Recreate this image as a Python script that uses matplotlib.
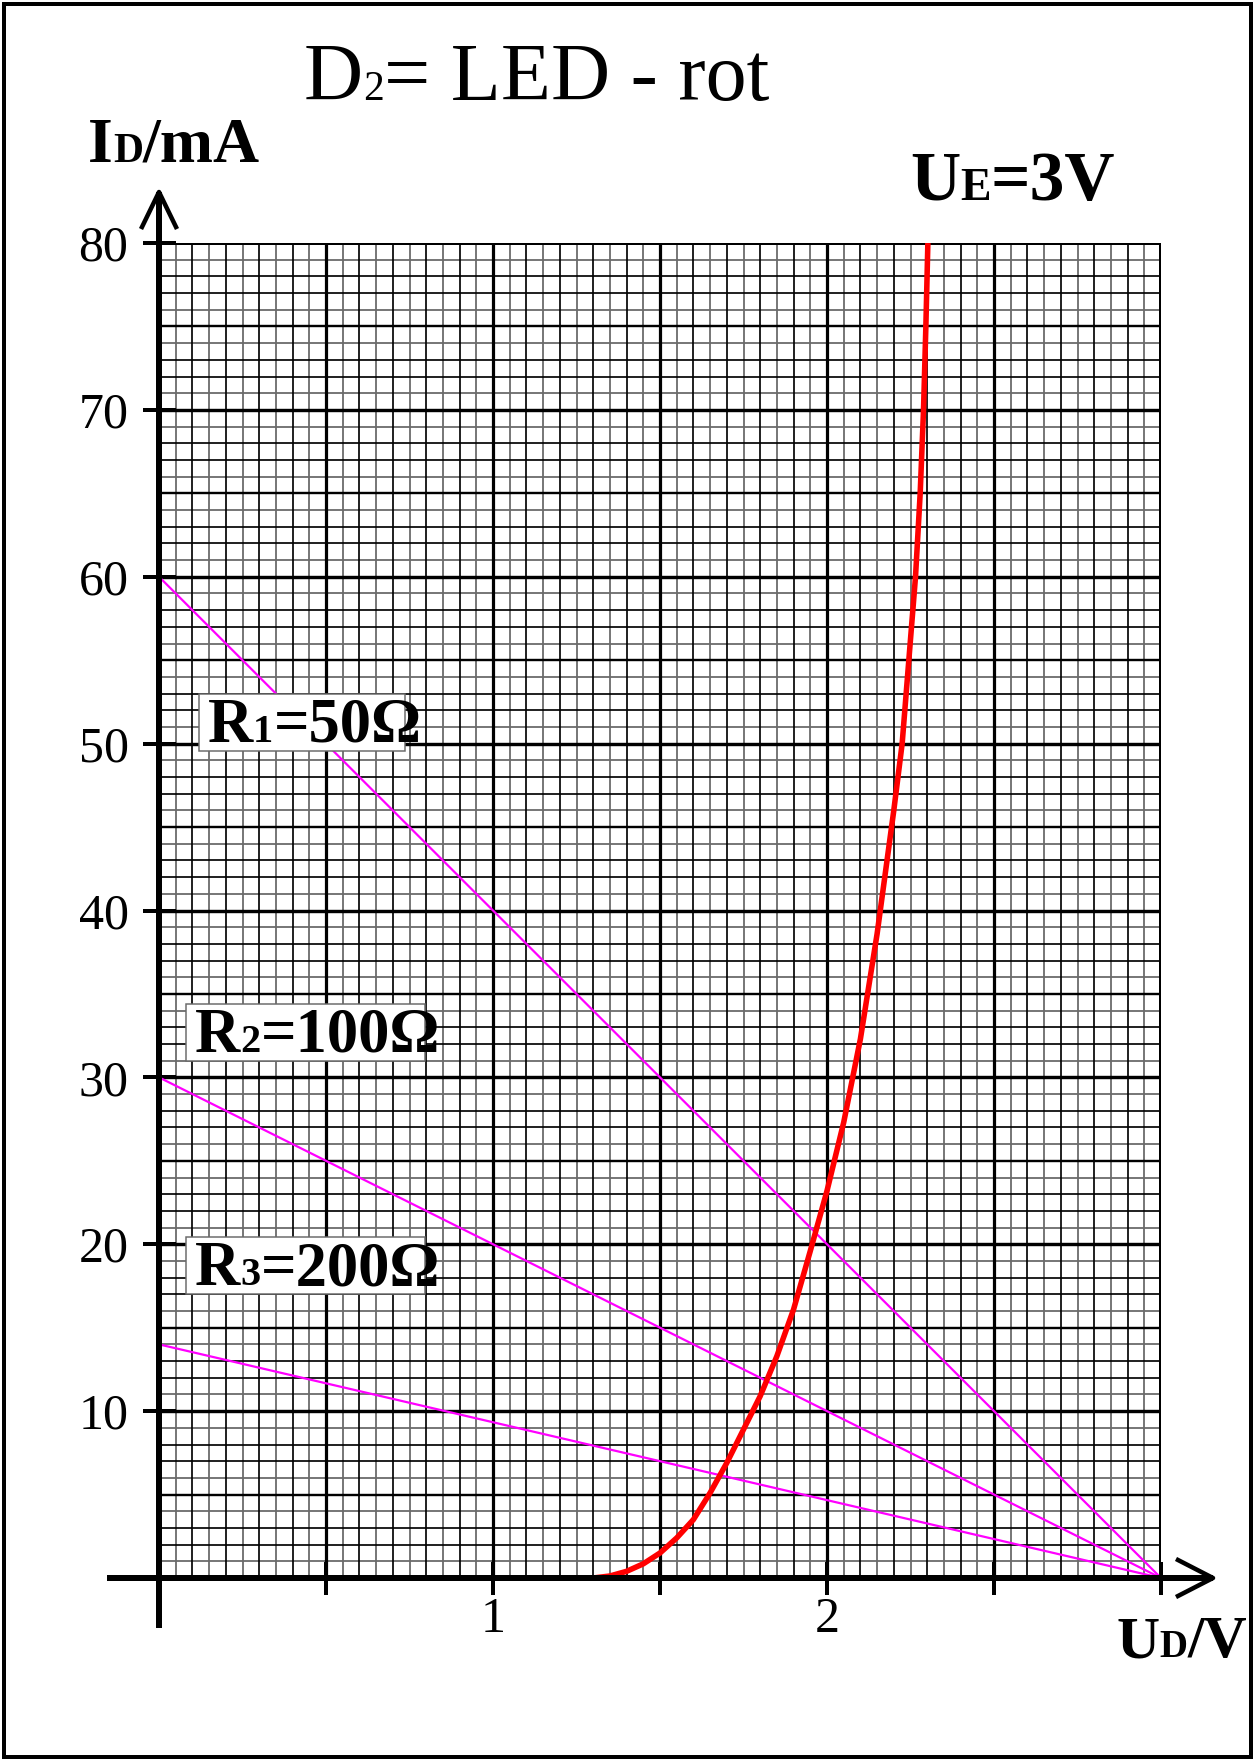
import matplotlib
matplotlib.use("Agg")
import matplotlib.pyplot as plt
from matplotlib.patches import Rectangle
from matplotlib.transforms import IdentityTransform

# LED (red) characteristic
U_LED = [1.30, 1.35, 1.40, 1.45, 1.50, 1.55, 1.60, 1.65, 1.70, 1.75, 1.80, 1.85, 1.90,
         1.95, 2.00, 2.05, 2.10, 2.15, 2.20, 2.225, 2.245, 2.265, 2.279, 2.289, 2.296, 2.302]
I_LED = [0.0, 0.12, 0.4, 0.85, 1.5, 2.4, 3.5, 5.1, 6.9, 8.9, 10.9, 13.3, 16.1,
         19.6, 23.2, 27.3, 32.3, 38.6, 46.0, 50.0, 55.0, 60.0, 65.0, 70.0, 75.0, 80.0]

# load lines: short-circuit current at U=0, open circuit at U_E
U_E = 3.0
LOAD_I0 = [60, 30, 14]
R_NAMES = [("R", "1", "=50Ω"), ("R", "2", "=100Ω"), ("R", "3", "=200Ω")]
R_BOX = [(199, 694, 405, 751), (186, 1004, 425, 1061), (186, 1237, 425, 1294)]  # px, from top

X_TICKS = [0.5, 1.0, 1.5, 2.0, 2.5, 3.0]
X_TICKLABELS = ["", "1", "", "2", "", ""]
Y_TICKS = [10, 20, 30, 40, 50, 60, 70, 80]

W, H = 1255, 1761
X0, X1 = 159, 1161      # px of U=0 and U=3
Y0, Y80 = 1578, 243     # px (from top) of I=0 and I=80
PX = 72 / 100           # points per pixel at dpi 100
SERIF = "Liberation Serif"
GRAY = "#6a6a6a"

plt.rcParams["font.family"] = [SERIF, "DejaVu Serif"]

fig = plt.figure(figsize=(W / 100, H / 100), dpi=100)
ax = fig.add_axes([X0 / W, (H - Y0) / H, (X1 - X0) / W, (Y0 - Y80) / H])
ax.set_xlim(0, 3)
ax.set_ylim(0, 80)
for s in ax.spines.values():
    s.set_visible(False)

# graph paper
for k in range(1, 60):
    u = k * 0.05
    if k % 10 == 0:
        ax.axvline(u, color="black", lw=3.2 * PX, zorder=1)
    elif k % 2 == 0:
        ax.axvline(u, color="black", lw=1.7 * PX, zorder=1)
    else:
        ax.axvline(u, color=GRAY, lw=1.8 * PX, zorder=0.9)
for k in range(1, 80):
    if k % 10 == 0:
        ax.axhline(k, color="black", lw=3.4 * PX, zorder=1)
    elif k % 5 == 0:
        ax.axhline(k, color="black", lw=2.4 * PX, zorder=1)
    elif k % 5 in (2, 3):
        ax.axhline(k, color="black", lw=1.7 * PX, zorder=1)
    else:
        ax.axhline(k, color=GRAY, lw=1.8 * PX, zorder=0.9)
ax.axhline(80, color="black", lw=4 * PX, zorder=1.2)
ax.axvline(3, color="black", lw=4 * PX, zorder=1.2)

# axes with open arrow heads
xl = -(X0 - 107) / (X1 - X0) * 3
xr = 3 + (1213 - X1) / (X1 - X0) * 3
yb = -(1628 - Y0) / (Y0 - Y80) * 80
yt = 80 + (Y80 - 192) / (Y0 - Y80) * 80
ax.plot([xl, xr], [0, 0], color="black", lw=6 * PX, clip_on=False, zorder=5,
        solid_capstyle="butt")
ax.plot([0, 0], [yb, yt], color="black", lw=6 * PX, clip_on=False, zorder=5,
        solid_capstyle="butt")
du, di = 3 / (X1 - X0), 80 / (Y0 - Y80)   # data per px
ax.plot([xr - 35 * du, xr, xr - 35 * du], [18 * di, 0, -18 * di], color="black",
        lw=4.5 * PX, clip_on=False, zorder=5)
ax.plot([-17 * du, 0, 17 * du], [yt - 35 * di, yt, yt - 35 * di], color="black",
        lw=4.5 * PX, clip_on=False, zorder=5)

ax.set_xticks(X_TICKS)
ax.set_xticklabels(X_TICKLABELS)
ax.set_yticks(Y_TICKS)
ax.set_yticklabels([str(v) for v in Y_TICKS])
ax.tick_params(axis="both", direction="inout", length=33 * PX, width=4 * PX,
               labelsize=36, color="black")
ax.tick_params(axis="y", pad=14 * PX)
ax.tick_params(axis="x", pad=2 * PX)

# load lines and LED curve
for i0 in LOAD_I0:
    ax.plot([0, U_E], [i0, 0], color="#ff00ff", lw=1.6, zorder=3, clip_on=False)
ax.plot(U_LED, I_LED, color="#ff0000", lw=4.0, zorder=4, solid_capstyle="butt")

renderer = fig.canvas.get_renderer()


def seq(x, y_top, pieces, weight="bold", z=8):
    # pieces drawn left to right on one baseline; y_top is px from the top
    y = H - y_top
    for s, size in pieces:
        t = fig.text(x, y, s, transform=IdentityTransform(), fontsize=size,
                     fontweight=weight, family=SERIF, ha="left", va="baseline",
                     zorder=z)
        x = t.get_window_extent(renderer).x1


for (a, b, c), (bx0, by0, bx1, by1) in zip(R_NAMES, R_BOX):
    ax.add_patch(Rectangle((bx0, H - by1), bx1 - bx0, by1 - by0,
                           transform=IdentityTransform(), facecolor="white",
                           edgecolor=GRAY, lw=1.5 * PX, clip_on=False, zorder=6))
    seq(bx0 + 9, by1 - 9, [(a, 45), (b, 29), (c, 45)])

seq(304, 100, [("D", 59), ("2", 30), ("= LED - rot", 59)], weight="normal")
seq(88, 162, [("I", 46), ("D", 30), ("/mA", 46)])
seq(910, 200, [("U", 50), ("E", 33), ("=3V", 50)])
seq(1116, 1657, [("U", 43), ("D", 28), ("/V", 43)])

# frame round the sheet
fig.patches.append(Rectangle((4, 4), W - 8, H - 8, transform=IdentityTransform(),
                             fill=False, edgecolor="black", lw=4 * PX))

fig.savefig("out.png", dpi=100, facecolor="white")
